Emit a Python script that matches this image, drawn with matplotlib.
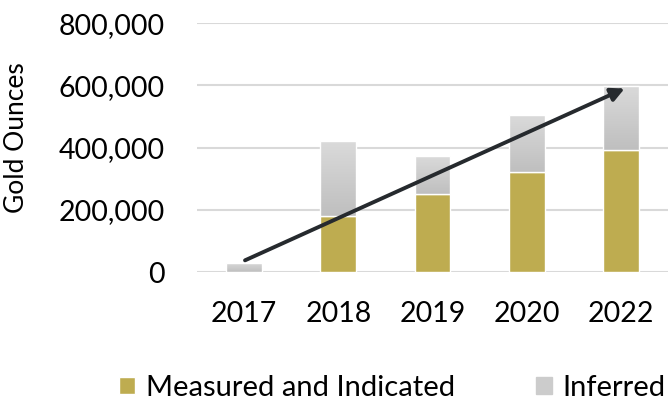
import numpy as np
import matplotlib
matplotlib.use("Agg")
import matplotlib.pyplot as plt
from matplotlib.colors import LinearSegmentedColormap
from matplotlib.ticker import FuncFormatter

years = ["2017", "2018", "2019", "2020", "2022"]
measured = [0, 181000, 250000, 321000, 391000]
inferred = [29000, 240000, 122000, 183000, 206000]

gold = "#BEAC50"
plt.rcParams["font.family"] = ["Lato", "DejaVu Sans"]

fig = plt.figure(figsize=(6.70, 4.05), dpi=100)
ax = fig.add_axes([0.294, 0.328, 0.703, 0.615])

x = np.arange(len(years))
width = 0.38
ax.bar(x, measured, width, color=gold, edgecolor="white", linewidth=1, zorder=2,
       label="Measured and Indicated")
tops = ax.bar(x, inferred, width, bottom=measured, facecolor="none", edgecolor="white",
              linewidth=1, zorder=3, label="Inferred")

# grey gradient inside the inferred bars
cmap = LinearSegmentedColormap.from_list("g", ["#BFBFBF", "#DADADA"])
grad = np.linspace(0, 1, 100).reshape(-1, 1)
for p in tops.patches:
    if p.get_height() <= 0:
        continue
    x0, y0 = p.get_x(), p.get_y()
    im = ax.imshow(grad, cmap=cmap, origin="lower", aspect="auto", zorder=2.5,
                   extent=[x0, x0 + p.get_width(), y0, y0 + p.get_height()])
    im.set_clip_path(p)

ax.set_xlim(-0.5, len(years) - 0.5)
ax.set_ylim(0, 800000)
ax.set_yticks(range(0, 800001, 200000))
ax.yaxis.set_major_formatter(FuncFormatter(lambda v, _: f"{int(v):,}"))
ax.set_xticks(x)
ax.set_xticklabels(years)
ax.tick_params(axis="both", length=0, labelsize=20.5)
ax.tick_params(axis="y", pad=23)
ax.tick_params(axis="x", pad=21)
ax.grid(axis="y", color="#D9D9D9", linewidth=1.5, zorder=0)
ax.set_axisbelow(True)
for s in ax.spines.values():
    s.set_visible(False)
fig.text(17 / 670, 1 - 138 / 405, "Gold Ounces", rotation=90, fontsize=19,
         ha="center", va="center")

# trend arrow
ax.annotate("", xy=(4.04, 590000), xytext=(0.01, 38000),
            arrowprops=dict(arrowstyle="-|>,head_length=0.8,head_width=0.4",
                            color="#262A2E", lw=2.8, shrinkA=0, shrinkB=0),
            zorder=5)

handles, labels = ax.get_legend_handles_labels()
handles[1] = plt.Rectangle((0, 0), 1, 1, color="#CCCCCC")
fig.legend(handles, labels, loc="center left", bbox_to_anchor=(0.178, 0.042), ncol=2,
           frameon=False, fontsize=21, handlelength=0.55, handleheight=0.55,
           handletextpad=0.35, columnspacing=2.8, borderpad=0, borderaxespad=0)

fig.savefig("out.png", dpi=100)
